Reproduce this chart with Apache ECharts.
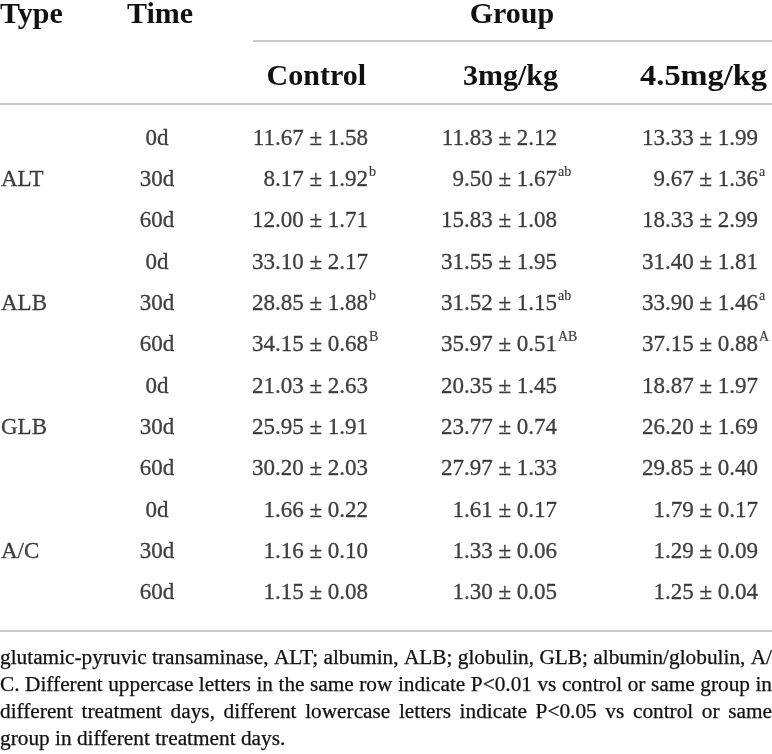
<!DOCTYPE html>
<html>
<head>
<meta charset="utf-8">
<script src="https://cdn.jsdelivr.net/npm/echarts@6/dist/echarts.min.js"></script>
<style>
html,body{margin:0;padding:0;background:#fff;}
#c{width:772px;height:754px;}
</style>
</head>
<body>
<div id="c"></div>
<script>
// ---- data ----
const types = ['ALT', 'ALB', 'GLB', 'A/C'];
const times = ['0d', '30d', '60d', '0d', '30d', '60d', '0d', '30d', '60d', '0d', '30d', '60d'];
const groups = ['Control', '3mg/kg', '4.5mg/kg'];

const controlMean = [11.67, 8.17, 12.00, 33.10, 28.85, 34.15, 21.03, 25.95, 30.20, 1.66, 1.16, 1.15];
const controlSD   = [1.58, 1.92, 1.71, 2.17, 1.88, 0.68, 2.63, 1.91, 2.03, 0.22, 0.10, 0.08];
const controlSup  = ['', 'b', '', '', 'b', 'B', '', '', '', '', '', ''];

const mg3Mean = [11.83, 9.50, 15.83, 31.55, 31.52, 35.97, 20.35, 23.77, 27.97, 1.61, 1.33, 1.30];
const mg3SD   = [2.12, 1.67, 1.08, 1.95, 1.15, 0.51, 1.45, 0.74, 1.33, 0.17, 0.06, 0.05];
const mg3Sup  = ['', 'ab', '', '', 'ab', 'AB', '', '', '', '', '', ''];

const mg45Mean = [13.33, 9.67, 18.33, 31.40, 33.90, 37.15, 18.87, 26.20, 29.85, 1.79, 1.29, 1.25];
const mg45SD   = [1.99, 1.36, 2.99, 1.81, 1.46, 0.88, 1.97, 1.69, 0.40, 0.17, 0.09, 0.04];
const mg45Sup  = ['', 'a', '', '', 'a', 'A', '', '', '', '', '', ''];

const footnoteLines = [
  'glutamic-pyruvic transaminase, ALT; albumin, ALB; globulin, GLB; albumin/globulin, A/',
  'C. Different uppercase letters in the same row indicate P<0.01 vs control or same group in',
  'different treatment days, different lowercase letters indicate P<0.05 vs control or same',
  'group in different treatment days.'
];

// ---- layout (not data) ----
const FONT = '"Liberation Serif", "DejaVu Serif", serif';
const INK = '#111111';
const RULE = '#c9c9c9';
const colAnchor = { type: 1, time: 157, control: 368, mg3: 557, mg45: 758 };
const BODY = 23;

const rowIdx = times.map((_, i) => String(i));

function baseLabel(align, size) {
  return { show: true, position: 'inside', align: align, verticalAlign: 'middle',
    fontFamily: FONT, fontSize: size, color: INK,
    textBorderColor: INK, textBorderWidth: 0.3,
    formatter: p => p.data.txt };
}

function cellSeries(anchor, means, sds, sups) {
  const main = {
    type: 'scatter', symbolSize: 0, silent: true,
    data: means.map((m, i) => ({ value: [anchor, String(i)], txt: m.toFixed(2) + ' ± ' + sds[i].toFixed(2) })),
    label: baseLabel('right', BODY)
  };
  const supLabel = baseLabel('left', 14);
  supLabel.offset = [1, -8];
  supLabel.textBorderWidth = 0.2;
  const sup = {
    type: 'scatter', symbolSize: 0, silent: true,
    data: sups.map((s, i) => ({ value: [anchor, String(i)], txt: s })).filter(d => d.txt),
    label: supLabel
  };
  return [main, sup];
}

const series = [
  {
    type: 'scatter', symbolSize: 0, silent: true,
    data: types.map((t, k) => ({ value: [colAnchor.type, String(k * 3 + 1)], txt: t })),
    label: baseLabel('left', BODY)
  },
  {
    type: 'scatter', symbolSize: 0, silent: true,
    data: times.map((t, i) => ({ value: [colAnchor.time, String(i)], txt: t })),
    label: baseLabel('center', BODY)
  },
  ...cellSeries(colAnchor.control, controlMean, controlSD, controlSup),
  ...cellSeries(colAnchor.mg3, mg3Mean, mg3SD, mg3Sup),
  ...cellSeries(colAnchor.mg45, mg45Mean, mg45SD, mg45Sup)
];

const headStyle = { fontFamily: FONT, fontSize: 30, fontWeight: 'bold', fill: INK, textVerticalAlign: 'middle' };
function head(text, x, y, align, sx) {
  return { type: 'text', x: x, y: y, scaleX: sx || 1,
    style: Object.assign({}, headStyle, { text: text, x: 0, y: 0, textAlign: align }) };
}

const graphic = [
  head('Type', 0, 15, 'left'),
  head('Time', 160, 15, 'center'),
  head('Group', 512, 15, 'center'),
  head(groups[0], 366, 77, 'right'),
  head(groups[1], 558, 77, 'right'),
  head(groups[2], 767, 77, 'right', 1.08),
  { type: 'line', shape: { x1: 253, y1: 41, x2: 772, y2: 41 }, style: { stroke: RULE, lineWidth: 2 } },
  { type: 'line', shape: { x1: 0, y1: 104, x2: 772, y2: 104 }, style: { stroke: RULE, lineWidth: 2 } },
  { type: 'line', shape: { x1: 0, y1: 631, x2: 772, y2: 631 }, style: { stroke: RULE, lineWidth: 2 } }
];

// footnote: lines 1-3 justified to the full width, last line left aligned
const FOOT_W = 772;
const FOOT_SX = 1.065;
const footStyle = { x: 0, y: 0, textAlign: 'left', textVerticalAlign: 'top',
  fontFamily: FONT, fontSize: 20, lineHeight: 27, fill: INK, stroke: INK, lineWidth: 0.25 };
const measureCtx = document.createElement('canvas').getContext('2d');
measureCtx.font = '20px ' + FONT;
footnoteLines.forEach((line, li) => {
  const y = 645.5 + li * 27;
  if (li === footnoteLines.length - 1) {
    graphic.push({ type: 'text', x: 0, y: y, scaleX: FOOT_SX,
      style: Object.assign({}, footStyle, { text: line }) });
    return;
  }
  const words = line.split(' ');
  const widths = words.map(w => measureCtx.measureText(w).width * FOOT_SX);
  const total = widths.reduce((a, b) => a + b, 0);
  const gap = (FOOT_W - total) / (words.length - 1);
  let cx = 0;
  words.forEach((w, wi) => {
    graphic.push({ type: 'text', x: cx, y: y, scaleX: FOOT_SX,
      style: Object.assign({}, footStyle, { text: w }) });
    cx += widths[wi] + gap;
  });
});

const chart = echarts.init(document.getElementById('c'), null, { renderer: 'canvas' });
chart.setOption({
  animation: false,
  backgroundColor: '#ffffff',
  grid: { left: 0, right: 0, top: 118, bottom: 140 },
  xAxis: { type: 'value', min: 0, max: 772, show: false },
  yAxis: { type: 'category', data: rowIdx, inverse: true, show: false },
  series: series,
  graphic: graphic
});
</script>
</body>
</html>
